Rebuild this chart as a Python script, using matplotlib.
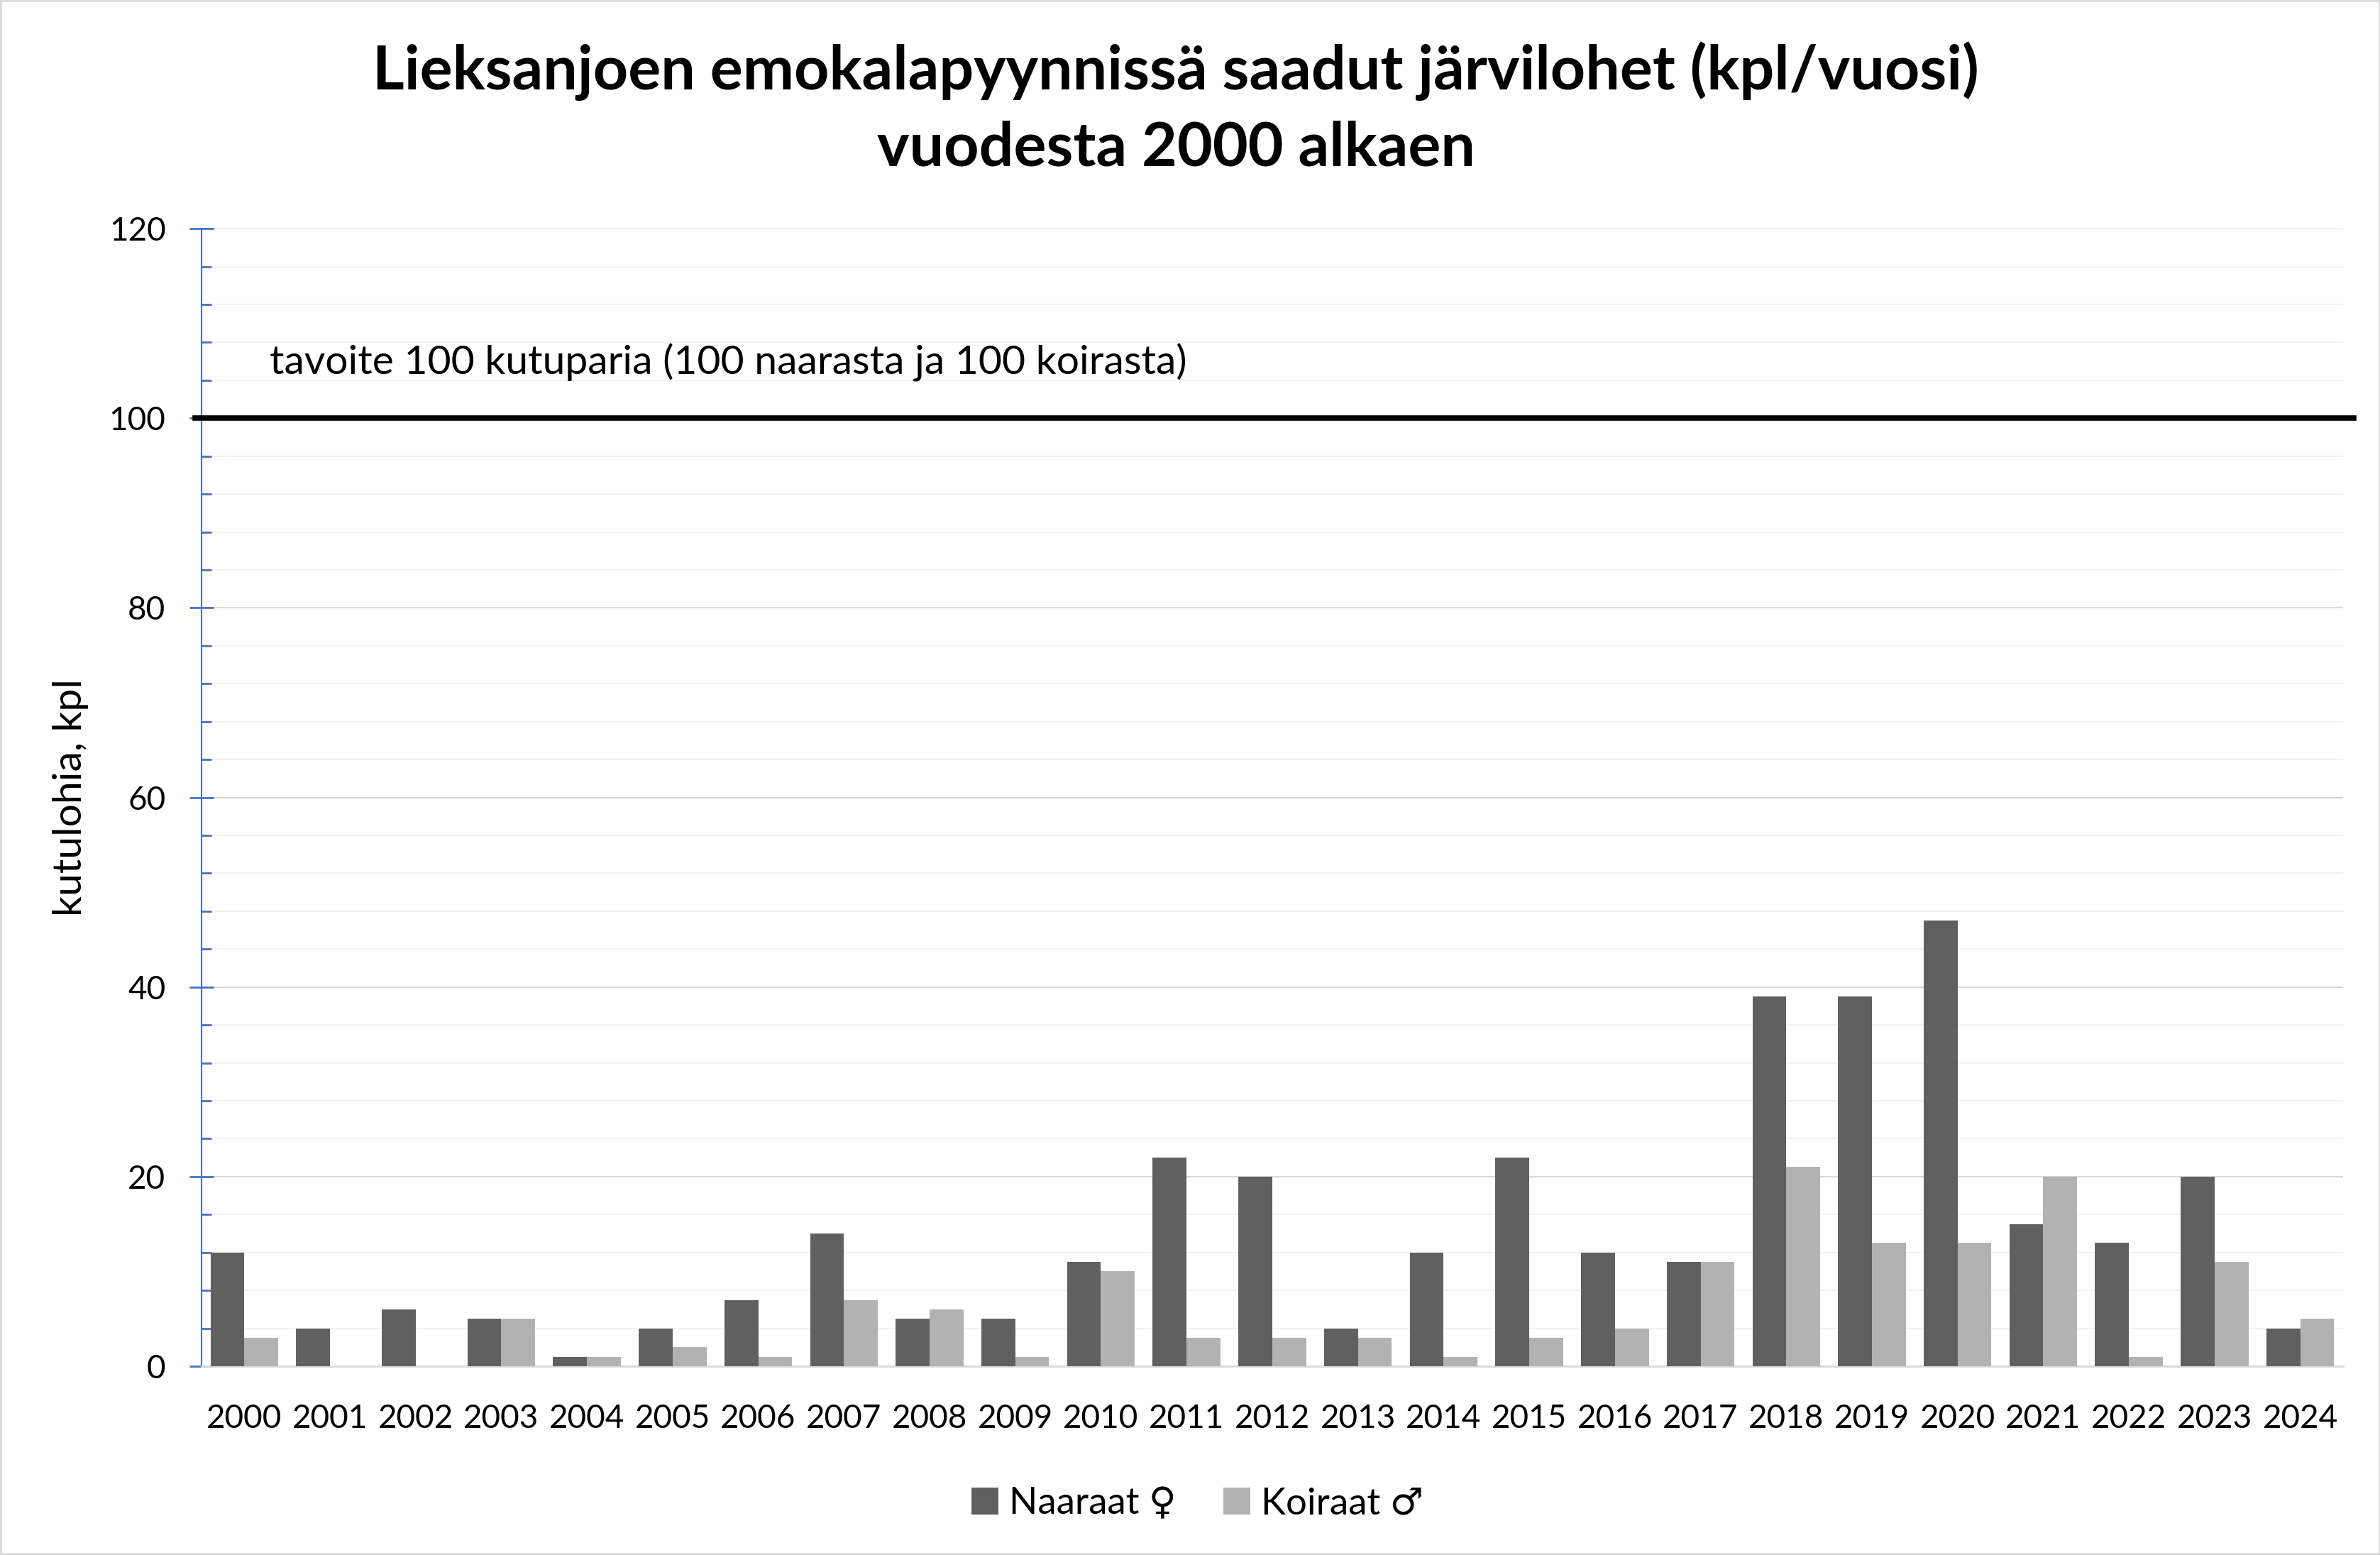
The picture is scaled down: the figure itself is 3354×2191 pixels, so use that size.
import numpy as np
import matplotlib
matplotlib.use("Agg")
import matplotlib.pyplot as plt
from matplotlib.patches import Rectangle
from matplotlib.ticker import MultipleLocator

plt.rcParams['font.family'] = ['Lato', 'DejaVu Sans']

# data
vuodet = [str(v) for v in range(2000, 2025)]
naaraat = [12, 4, 6, 5, 1, 4, 7, 14, 5, 5, 11, 22, 20, 4, 12, 22, 12, 11, 39, 39, 47, 15, 13, 20, 4]
koiraat = [3, 0, 0, 5, 1, 2, 1, 7, 6, 1, 10, 3, 3, 3, 1, 3, 4, 11, 21, 13, 13, 20, 1, 11, 5]
tavoite = 100

otsikko = "Lieksanjoen emokalapyynnissä saadut järvilohet (kpl/vuosi)\nvuodesta 2000 alkaen"
tavoite_teksti = "tavoite 100 kutuparia (100 naarasta ja 100 koirasta)"

fig = plt.figure(figsize=(33.55, 21.91), dpi=100)
ax = fig.add_axes([0.0846, 0.1214, 0.9842 - 0.0846, 0.853 - 0.1214])

x = np.arange(len(vuodet))
w = 0.395
ax.bar(x - w / 2, naaraat, w, color='#606060', label='Naaraat ♀', zorder=3)
ax.bar(x + w / 2, koiraat, w, color='#b2b2b2', label='Koiraat ♂', zorder=3)

# tavoiteviiva
ax.axhline(tavoite, xmin=-0.003, xmax=1.005, color='black', lw=5.5, clip_on=False, zorder=4)
ax.text(0.3, 105.9, tavoite_teksti, fontsize=41, va='center', ha='left')

ax.set_xlim(-0.5, len(vuodet) - 0.5)
ax.set_ylim(0, 120)
ax.yaxis.set_major_locator(MultipleLocator(20))
ax.yaxis.set_minor_locator(MultipleLocator(4))
ax.set_xticks(x)
ax.set_xticklabels(vuodet)

ax.grid(True, axis='y', which='major', color='#d9d9d9', lw=1.5, zorder=0)
ax.grid(True, axis='y', which='minor', color='#f2f2f2', lw=1.5, zorder=0)
ax.set_axisbelow(True)

for s in ['top', 'right']:
    ax.spines[s].set_visible(False)
ax.spines['left'].set_color('#4472c4')
ax.spines['left'].set_linewidth(1.5)
ax.spines['bottom'].set_color('#d9d9d9')
ax.spines['bottom'].set_linewidth(2)

ax.tick_params(axis='y', which='major', direction='inout', length=24.5, width=2,
               color='#4472c4', labelsize=33, pad=24)
ax.tick_params(axis='y', which='minor', direction='in', length=10, width=2, color='#4472c4')
ax.tick_params(axis='x', which='both', length=0, labelsize=33, pad=38)

fig.text(0.0298, 0.4874, 'kutulohia, kpl', rotation=90, fontsize=41, ha='center', va='center')

fig.text(0.494, 0.93, otsikko, fontsize=62, fontweight='bold', ha='center', va='center',
         linespacing=1.43)

fig.legend(loc='center', bbox_to_anchor=(0.503, 0.033), ncol=2, frameon=False,
           fontsize=38, handlelength=0.72, handleheight=0.72, handletextpad=0.28,
           columnspacing=1.25)

fig.patches.append(Rectangle((0, 0), 1, 1, transform=fig.transFigure, fill=False,
                             edgecolor='#d9d9d9', lw=4))

fig.savefig('out.png', dpi=100)
